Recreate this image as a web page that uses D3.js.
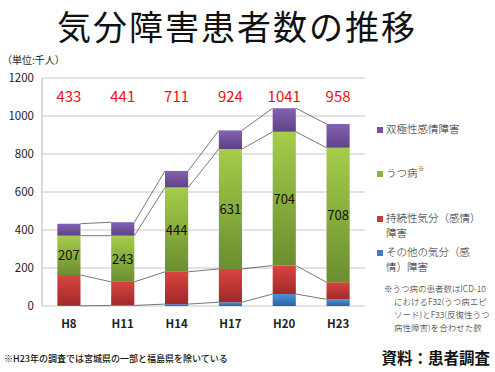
<!DOCTYPE html>
<html><head><meta charset="utf-8">
<script src="https://cdn.jsdelivr.net/npm/d3@7"></script>
<style>
html,body{margin:0;padding:0;background:#fff;}
text{font-family:"Noto Sans CJK JP","Noto Sans",sans-serif;}
</style></head>
<body><svg id="c" width="495" height="372"></svg>
<script>
const years = ["H8","H11","H14","H17","H20","H23"];
const otherMood = [1, 3, 10, 20, 63, 35];
const persistent = [162, 124, 170, 175, 150, 90];
const depression = [207, 243, 444, 631, 704, 708];
const bipolar = [63, 71, 87, 98, 124, 125];
const totals = [433, 441, 711, 924, 1041, 958];
const yTicks = [0, 200, 400, 600, 800, 1000, 1200];
const seriesNames = ["その他の気分(感情)障害","持続性気分(感情)障害","うつ病","双極性感情障害"];

const svg = d3.select("#c");
const x = d3.scaleBand().domain(years).range([42, 365]).paddingInner(0.57).paddingOuter(0.285);
const y = d3.scaleLinear().domain([0,1200]).range([306, 78]);

const defs = svg.append("defs");
const grads = [
  {id:"gB", top:"#4f8fd6", bot:"#2b63a8"},
  {id:"gR", top:"#d94440", bot:"#a02a2a"},
  {id:"gG", top:"#a5cc4a", bot:"#6b8e30"},
  {id:"gP", top:"#8462b4", bot:"#5e4286"}
];
grads.forEach(g=>{
  const lg = defs.append("linearGradient").attr("id",g.id).attr("x1",0).attr("y1",0).attr("x2",0).attr("y2",1);
  lg.append("stop").attr("offset","0%").attr("stop-color",g.top);
  lg.append("stop").attr("offset","100%").attr("stop-color",g.bot);
});
const colors = ["#3f7fcc","#c83a38","#8db63e","#7454a4"];

// title
svg.append("text").attr("x",237).attr("y",40).attr("text-anchor","middle")
  .attr("font-size",34).attr("letter-spacing",2).attr("font-weight",400).attr("fill","#111").text("気分障害患者数の推移");
svg.append("text").attr("x",2).attr("y",64).attr("font-size",10).attr("fill","#222").text("（単位:千人）");

// grid
svg.append("g").selectAll("line").data(yTicks).join("line")
  .attr("x1",42).attr("x2",365).attr("y1",d=>y(d)).attr("y2",d=>y(d))
  .attr("stroke","#c8c8c8").attr("stroke-width",1);
svg.append("line").attr("x1",42).attr("x2",42).attr("y1",78).attr("y2",306).attr("stroke","#b8b8b8");

// y axis
const ya = svg.append("g").attr("transform","translate(42,0)")
  .call(d3.axisLeft(y).tickValues(yTicks).tickFormat(d3.format("d")).tickSize(0).tickPadding(8));
ya.select(".domain").remove();
ya.selectAll("text").attr("font-size",11.5).attr("fill","#222").attr("font-family","Liberation Sans, Arial, sans-serif");

// x axis
const xa = svg.append("g").attr("transform","translate(0,306)")
  .call(d3.axisBottom(x).tickSize(0).tickPadding(14));
xa.select(".domain").remove();
xa.selectAll("text").attr("font-size",11.5).attr("fill","#222").attr("font-weight","bold").attr("font-family","Liberation Sans, Arial, sans-serif");

// stack
const rows = years.map((yr,i)=>({yr, a:otherMood[i], b:persistent[i], c:depression[i], d:bipolar[i]}));
const stack = d3.stack().keys(["a","b","c","d"])(rows);

// series lines
const bw = x.bandwidth();
const lineG = svg.append("g");
stack.forEach(s=>{
  for(let i=0;i<s.length-1;i++){
    lineG.append("line")
      .attr("x1",x(years[i])+bw).attr("y1",y(s[i][1]))
      .attr("x2",x(years[i+1])).attr("y2",y(s[i+1][1]))
      .attr("stroke","#555").attr("stroke-width",0.8);
  }
});

// bars
stack.forEach((s,k)=>{
  svg.append("g").selectAll("rect").data(s).join("rect")
    .attr("x",(d,i)=>x(years[i])).attr("width",bw)
    .attr("y",d=>y(d[1])).attr("height",d=>Math.max(0,y(d[0])-y(d[1])))
    .attr("fill","url(#"+grads[k].id+")");
});

// depression labels
svg.append("g").selectAll("text").data(stack[2]).join("text")
  .attr("x",(d,i)=>x(years[i])+bw/2).attr("y",d=>(y(d[0])+y(d[1]))/2+5)
  .attr("text-anchor","middle").attr("font-size",13).attr("fill","#111")
  .attr("font-family","Liberation Sans, Arial, sans-serif")
  .text((d,i)=>depression[i]);

// totals
svg.append("g").selectAll("text").data(totals).join("text")
  .attr("x",(d,i)=>x(years[i])+bw/2).attr("y",102)
  .attr("text-anchor","middle").attr("font-size",15).attr("fill","#f01010")
  .attr("font-family","Liberation Sans, Arial, sans-serif")
  .text(d=>d);

// legend
const lg = svg.append("g");
const legendItems = [
  {c:3, lines:["双極性感情障害"], y:133},
  {c:2, lines:["うつ病"], y:177, sup:true},
  {c:1, lines:["持続性気分（感情）","障害"], y:222},
  {c:0, lines:["その他の気分（感","情）障害"], y:256}
];
legendItems.forEach(it=>{
  lg.append("rect").attr("x",377).attr("y",it.y-6).attr("width",6).attr("height",6).attr("fill",colors[it.c]);
  it.lines.forEach((t,j)=>{
    lg.append("text").attr("x",386).attr("y",it.y+j*15).attr("font-size",10.5).attr("font-weight",300).attr("fill","#222").text(t);
  });
  if(it.sup){
    lg.append("text").attr("x",418).attr("y",it.y-6).attr("font-size",6).attr("fill","#444").text("※");
  }
});
const notes = ["※うつ病の患者数はICD-10","におけるF32(うつ病エピ","ソード)とF33(反復性うつ","病性障害)を合わせた数"];
notes.forEach((t,j)=>{
  lg.append("text").attr("x", j===0?384:394).attr("y",292+j*13).attr("font-size",8.5).attr("font-weight",300).attr("fill","#222").text(t);
});

// footer
svg.append("text").attr("x",4).attr("y",362).attr("font-size",9).attr("fill","#111").attr("font-weight",500)
  .text("※H23年の調査では宮城県の一部と福島県を除いている");
svg.append("text").attr("x",490).attr("y",364).attr("text-anchor","end").attr("font-size",15.5).attr("font-weight","bold").attr("fill","#111")
  .text("資料：患者調査");
</script></body></html>
